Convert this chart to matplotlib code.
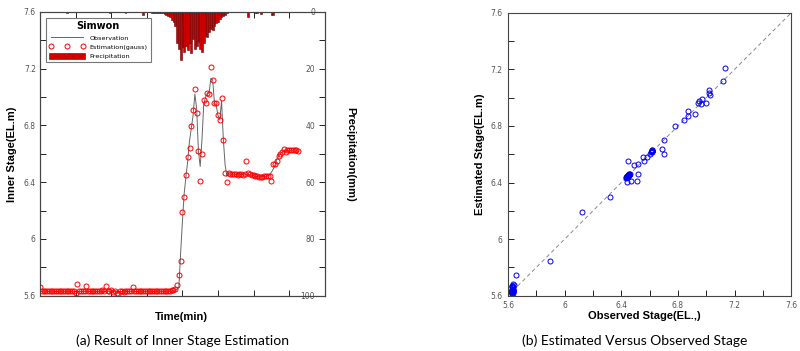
import numpy as np
import matplotlib.pyplot as plt
from matplotlib.ticker import MultipleLocator, FuncFormatter, NullFormatter

# inner stage (EL.m), one value per 5 min step
# estimation(gauss): flat start, flood rise, plateau, end
est_base = [5.664, 5.632, 5.632, 5.632, 5.632, 5.632, 5.632, 5.632, 5.632, 5.632,
            5.632, 5.632, 5.632, 5.632, 5.632, 5.632, 5.632, 5.632, 5.632, 5.632,
            5.617, 5.683, 5.632, 5.632, 5.632, 5.632, 5.668, 5.632, 5.632, 5.632,
            5.632, 5.632, 5.635, 5.632, 5.630, 5.640, 5.632, 5.668, 5.635, 5.632,
            5.640, 5.625, 5.632, 5.617, 5.610, 5.630, 5.632, 5.625, 5.632, 5.632,
            5.632, 5.635, 5.660, 5.632, 5.632, 5.632, 5.632, 5.632, 5.632, 5.632,
            5.632, 5.632, 5.632, 5.632, 5.632, 5.632, 5.632, 5.632, 5.632, 5.632,
            5.632, 5.632, 5.632, 5.635, 5.638]
est_rise = [5.640, 5.645, 5.675, 5.745, 5.847, 6.190, 6.295, 6.448, 6.580, 6.638,
            6.797, 6.905, 7.053, 6.888, 6.620, 6.410, 6.600, 6.980, 6.960, 7.030,
            7.018, 7.208, 7.120, 6.955, 6.960, 6.870, 6.840, 6.990, 6.700, 6.462,
            6.403]
est_flat = [6.462, 6.458, 6.456, 6.455, 6.455, 6.453, 6.455, 6.455, 6.452, 6.455,
            6.551, 6.462, 6.455, 6.450, 6.448, 6.445, 6.440, 6.436, 6.434, 6.438,
            6.440, 6.440, 6.442, 6.445]
est_end = [6.408, 6.525, 6.530, 6.550, 6.584, 6.600, 6.614, 6.633, 6.615, 6.626,
           6.626, 6.627, 6.626, 6.626, 6.625, 6.620]

# observation
obs_base = [5.630, 5.630, 5.630, 5.632, 5.630, 5.630, 5.630, 5.632, 5.630, 5.630,
            5.630, 5.630, 5.632, 5.630, 5.630, 5.630, 5.630, 5.630, 5.632, 5.630,
            5.630, 5.632, 5.630, 5.630, 5.630, 5.632, 5.630, 5.630, 5.630, 5.630,
            5.632, 5.630, 5.630, 5.630, 5.632, 5.630, 5.630, 5.630, 5.630, 5.632,
            5.630, 5.630, 5.630, 5.632, 5.630, 5.630, 5.630, 5.630, 5.632, 5.630,
            5.630, 5.630, 5.632, 5.630, 5.630, 5.630, 5.630, 5.632, 5.630, 5.630,
            5.630, 5.630, 5.632, 5.630, 5.630, 5.630, 5.630, 5.632, 5.630, 5.630,
            5.630, 5.630, 5.632, 5.632, 5.632]
obs_rise = [5.632, 5.636, 5.645, 5.660, 5.900, 6.120, 6.320, 6.440, 6.550, 6.690,
            6.780, 6.870, 7.020, 6.920, 6.620, 6.510, 6.700, 6.950, 7.000, 7.020,
            7.030, 7.130, 7.120, 6.960, 6.940, 6.870, 6.840, 6.970, 6.700, 6.520,
            6.440]
obs_flat = [6.460, 6.455, 6.455, 6.450, 6.455, 6.455, 6.450, 6.455, 6.455, 6.450,
            6.450, 6.455, 6.450, 6.450, 6.445, 6.440, 6.440, 6.435, 6.435, 6.440,
            6.440, 6.440, 6.445, 6.450]
obs_end = [6.470, 6.490, 6.520, 6.560, 6.580, 6.600, 6.610, 6.620, 6.620, 6.620,
           6.620, 6.620, 6.620, 6.620, 6.620, 6.620]

# precipitation (mm) at the steps where it rained
rain_step = [15, 39, 48, 58, 63, 64, 65, 66, 67, 68, 69, 70, 71, 72, 73, 74, 75, 76,
             77, 78, 79, 80, 81, 82, 83, 84, 85, 86, 87, 88, 89, 90, 91, 92, 93, 94,
             95, 96, 97, 98, 99, 100, 101, 102, 103, 104, 105, 117, 121, 122, 124,
             130, 131]
rain_mm = [0.5, 0.4, 0.5, 1.0, 0.3, 0.4, 0.3, 0.5, 0.3, 0.6, 0.5, 0.8, 1.0, 1.5,
           2.0, 2.8, 3.5, 5.0, 11.0, 13.0, 17.0, 12.5, 14.0, 12.0, 13.5, 11.0, 14.5,
           9.5, 13.0, 12.0, 10.5, 13.0, 14.0, 11.0, 8.5, 9.0, 7.0, 6.0, 6.5, 5.0,
           4.0, 3.5, 2.5, 2.0, 1.5, 1.0, 0.6, 2.0, 0.6, 0.5, 0.8, 1.0, 1.2]

est = np.array(est_base + est_rise + est_flat + est_end)
obs = np.array(obs_base + obs_rise + obs_flat + obs_end)
dt = 5
time = np.arange(len(obs)) * dt

lab_font = 'Liberation Sans'
tick_col = '#555555'
fmt = FuncFormatter(lambda v, p: '%g' % round(v, 2))

fig = plt.figure(figsize=(8, 3.51), dpi=100)

# (a) time series
ax1 = fig.add_axes([0.05, 0.1575, 0.356, 0.809])
ax2 = ax1.twinx()
l1, = ax1.plot(time, obs, color='#666666', lw=0.7, label='Observation')
l2, = ax1.plot(time, est, ls='none', marker='o', ms=3.6, mfc='none', mec='red',
               mew=0.7, label='Estimation(gauss)')
b1 = ax2.bar(np.array(rain_step) * dt, rain_mm, width=dt, color='#d00000',
             edgecolor='#700000', linewidth=0.4, label='Precipitation')
ax1.set_xlim(0, 800)
ax1.set_ylim(5.6, 7.6)
ax2.set_ylim(100, 0)
ax1.xaxis.set_major_locator(MultipleLocator(100))
ax1.xaxis.set_major_formatter(NullFormatter())
ax1.yaxis.set_major_locator(MultipleLocator(0.4))
ax1.yaxis.set_minor_locator(MultipleLocator(0.2))
ax1.yaxis.set_major_formatter(fmt)
ax2.yaxis.set_major_locator(MultipleLocator(20))
ax2.yaxis.set_minor_locator(MultipleLocator(10))
ax1.tick_params(axis='x', which='both', direction='in', top=True, length=4, width=0.6)
ax1.tick_params(axis='y', which='both', direction='in', length=4, width=0.6,
                labelsize=5.5, labelcolor=tick_col, pad=3)
ax2.tick_params(axis='y', which='both', direction='in', length=4, width=0.6,
                labelsize=5.5, labelcolor=tick_col, pad=-7)
for t in ax2.get_yticklabels():
    t.set_horizontalalignment('right')
for sp in list(ax1.spines.values()) + list(ax2.spines.values()):
    sp.set_linewidth(0.8)
    sp.set_color('#444444')

leg = ax2.legend([l1, l2, b1], ['Observation', 'Estimation(gauss)', 'Precipitation'],
                 title='Simwon', loc='upper left', bbox_to_anchor=(0.02, 0.977),
                 borderaxespad=0, fancybox=False, edgecolor='#777777', framealpha=1,
                 fontsize=4.6, numpoints=3, handlelength=5.6, handleheight=1.1,
                 handletextpad=0.8, labelspacing=0.45, borderpad=0.5)
leg.get_title().set_fontweight('bold')
leg.get_title().set_fontsize(7)
leg.get_frame().set_linewidth(0.8)

fig.text(0.015, 0.56, 'Inner Stage(EL.m)', rotation=90, ha='center', va='center',
         fontsize=8, fontweight='bold', family=lab_font)
fig.text(0.438, 0.56, 'Precipitation(mm)', rotation=270, ha='center', va='center',
         fontsize=8, fontweight='bold', family=lab_font)
fig.text(0.227, 0.097, 'Time(min)', ha='center', va='center',
         fontsize=8, fontweight='bold', family=lab_font)
fig.text(0.228, 0.03, '(a) Result of Inner Stage Estimation', ha='center', va='center',
         fontsize=10, family='Lato')

# (b) estimated vs observed
ax3 = fig.add_axes([0.635, 0.1575, 0.354, 0.806])
ax3.plot([5.6, 7.6], [5.6, 7.6], ls=(0, (4, 3)), color='#888888', lw=0.7)
ax3.plot(obs, est, ls='none', marker='o', ms=3.6, mfc='none', mec='#0000ee', mew=0.7)
ax3.set_xlim(5.6, 7.6)
ax3.set_ylim(5.6, 7.6)
for axis in (ax3.xaxis, ax3.yaxis):
    axis.set_major_locator(MultipleLocator(0.4))
    axis.set_minor_locator(MultipleLocator(0.2))
    axis.set_major_formatter(fmt)
ax3.tick_params(which='both', direction='in', length=4, width=0.6,
                labelsize=5.5, labelcolor=tick_col, pad=4)
for sp in ax3.spines.values():
    sp.set_linewidth(0.8)
    sp.set_color('#444444')

fig.text(0.6, 0.56, 'Estimated Stage(EL.m)', rotation=90, ha='center', va='center',
         fontsize=8, fontweight='bold', family=lab_font)
fig.text(0.805, 0.1, 'Observed Stage(EL.,)', ha='center', va='center',
         fontsize=8, fontweight='bold', family=lab_font)
fig.text(0.793, 0.03, '(b) Estimated Versus Observed Stage', ha='center', va='center',
         fontsize=10, family='Lato')

fig.savefig('out.png', dpi=100)
